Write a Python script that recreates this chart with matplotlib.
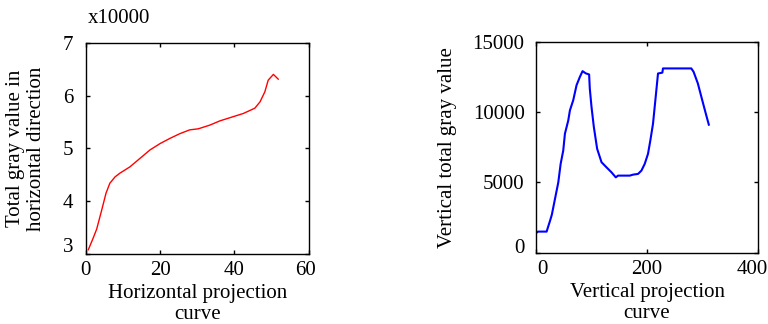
import matplotlib
matplotlib.use("Agg")
import matplotlib.pyplot as plt
from matplotlib.transforms import ScaledTranslation

plt.rcParams['font.family'] = ['Liberation Serif', 'DejaVu Serif']

# Horizontal projection curve (values in units of 10000)
h_x = [0.7, 2.0, 2.95, 4.3, 5.46, 6.5, 7.9, 9.2, 11.9, 14.6, 17.3, 20.0, 22.7,
       25.4, 28.0, 30.3, 33.4, 36.1, 39.7, 42.4, 45.5, 46.9, 48.2, 49.1, 50.5, 51.8]
h_y = [3.08, 3.3, 3.47, 3.83, 4.15, 4.34, 4.46, 4.53, 4.65, 4.81, 4.97, 5.09, 5.19,
       5.28, 5.35, 5.37, 5.44, 5.52, 5.60, 5.66, 5.76, 5.88, 6.07, 6.29, 6.40, 6.31]

# Vertical projection curve
v_x = [0.5, 4, 19.6, 26, 29, 32.8, 36.4, 40.6, 44.8, 49.5, 52.5, 58.5, 61.5, 67.4,
       73.4, 79.4, 84.2, 90, 96, 97.2, 100.3, 104.5, 110.4, 118.3, 127.2, 136.2,
       143.9, 148, 169, 175, 183.9, 190, 195.9, 201.8, 206, 210.8, 213.8, 216.8,
       219.8, 227.6, 228.7, 279.6, 283.7, 291.4, 299.3, 306.5, 311.1]
v_y = [1386, 1500, 1500, 2300, 2700, 3457, 4170, 5000, 6310, 7264, 8457, 9400,
       10120, 10836, 11907, 12500, 12907, 12750, 12670, 11670, 10357, 8930, 7386,
       6430, 6070, 5714, 5357, 5480, 5480, 5550, 5600, 5836, 6314, 7029, 7980,
       9170, 10357, 11550, 12740, 12800, 13100, 13100, 12860, 12030, 10836, 9764, 9100]

h_xticks = [0, 20, 40, 60]
h_yticks = [3, 4, 5, 6, 7]
v_xticks = [0, 200, 400]
v_yticks = [0, 5000, 10000, 15000]

W, H = 768, 324
fig = plt.figure(figsize=(W / 100, H / 100), dpi=100)
fs = 15

ax1 = fig.add_axes([85.7 / W, (H - 254) / H, 223 / W, 211.3 / H])
ax2 = fig.add_axes([535.7 / W, (H - 252.7) / H, 222.6 / W, 211 / H])

ax1.plot(h_x, h_y, color='#ff0000', lw=1.0)
ax1.set_xlim(0, 60)
ax1.set_ylim(3, 7)
ax1.set_xticks(h_xticks)
ax1.set_yticks(h_yticks)
ax1.set_xlabel('Horizontal projection\ncurve', fontsize=fs, linespacing=1.15, labelpad=3)
ax1.set_ylabel('Total gray value in\nhorizontal direction', fontsize=fs, linespacing=1.15, labelpad=12)
ax1.tick_params(axis='both', direction='in', length=3, width=1, labelsize=fs,
                top=True, right=True)
ax1.tick_params(axis='y', pad=9)
ax1.tick_params(axis='x', pad=5)
fig.text(88 / W, 1 - 23 / H, 'x10000', fontsize=fs, ha='left', va='baseline')

ax2.plot(v_x, v_y, color='#0000ff', lw=1.5)
ax2.set_xlim(0, 400)
ax2.set_ylim(0, 15000)
ax2.set_xticks(v_xticks)
ax2.set_yticks(v_yticks)
ax2.set_xlabel('Vertical projection\ncurve', fontsize=fs, linespacing=1.15, labelpad=3)
ax2.set_ylabel('Vertical total gray value', fontsize=fs, labelpad=11)
ax2.tick_params(axis='both', direction='in', length=3, width=1, labelsize=fs,
                top=True, right=True)
ax2.tick_params(axis='y', pad=8)
ax2.tick_params(axis='x', pad=5)

for ax in (ax1, ax2):
    for s in ax.spines.values():
        s.set_linewidth(1.0)
        s.set_color('black')


def shift(label, dx_px, dy_px):
    label.set_transform(label.get_transform() +
                        ScaledTranslation(dx_px / 100, dy_px / 100, fig.dpi_scale_trans))


fig.canvas.draw()
shift(ax1.get_yticklabels()[0], 0, 9)
shift(ax1.get_xticklabels()[-1], -3, 0)
shift(ax2.get_yticklabels()[0], 0, 7)
shift(ax2.get_xticklabels()[0], 7, 0)
shift(ax2.get_xticklabels()[-1], -6, 0)

fig.savefig('out.png', dpi=100)
